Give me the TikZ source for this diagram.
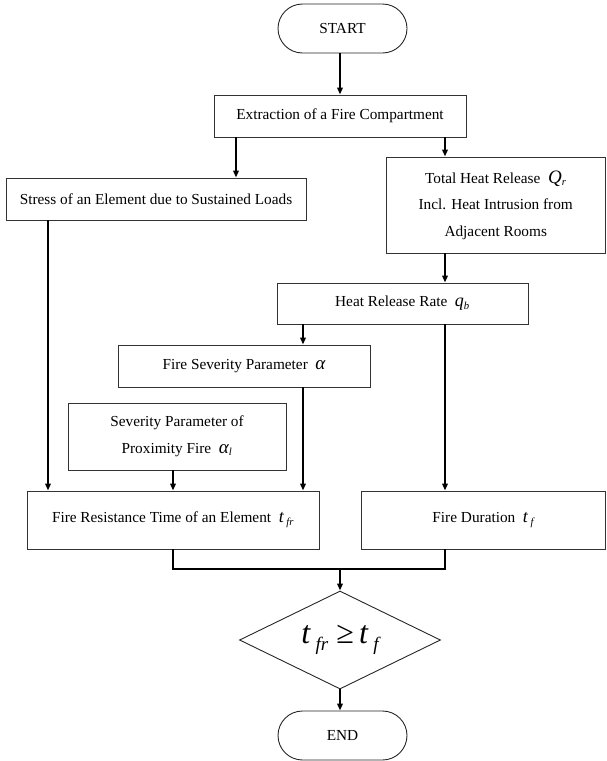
\documentclass[tikz,border=0pt]{standalone}
\usepackage{fontspec}
\setmainfont{Liberation Serif}
\usetikzlibrary{shapes.geometric,shapes.misc,arrows.meta}
\newcommand{\mvar}[2]{{\fontsize{#2}{#2}\selectfont\itshape #1}}
\newcommand{\msub}[1]{\textsubscript{\itshape #1}}
\begin{document}
\begin{tikzpicture}[x=1pt,y=-1pt,
  every node/.style={font=\fontsize{15.3}{26.5}\selectfont},
  box/.style={draw=black!80,line width=0.9pt,rectangle,inner sep=0pt,align=center},
  term/.style={draw=black!85,line width=0.9pt,rounded rectangle,inner sep=0pt},
  decis/.style={draw=black!85,line width=0.9pt,diamond,inner sep=0pt},
  arr/.style={line width=2.4pt,-{Triangle[length=7pt,width=5.5pt]},shorten >=0pt},
  thick line/.style={line width=2.6pt}]
\useasboundingbox (0,0) rectangle (606,761);
\node[term,minimum width=129pt,minimum height=49pt] (start) at (342.5,28.5) {START};
\node[box,minimum width=252pt,minimum height=42pt] (ext) at (340,116) {Extraction of a Fire Compartment};
\node[box,minimum width=300pt,minimum height=42pt] (stress) at (156,199) {Stress of an Element due to Sustained Loads};
\node[box,minimum width=219.5pt,minimum height=96pt] (total) at (495.75,205) {Total Heat Release\ \ \mvar{Q}{19}\msub{r}\\Incl. Heat Intrusion from\\Adjacent Rooms};
\node[box,minimum width=251pt,minimum height=41pt] (hrr) at (402.5,303.5) {Heat Release Rate\ \ \mvar{q}{18}\msub{b}};
\node[box,minimum width=252pt,minimum height=42pt] (fsp) at (244,366) {Fire Severity Parameter\ \ \mvar{α}{19}};
\node[box,minimum width=218pt,minimum height=67pt] (prox) at (177,436.5) {Severity Parameter of\\Proximity Fire\ \ \mvar{α}{19}\msub{l}};
\node[box,minimum width=292pt,minimum height=58pt] (fre) at (173,520) {Fire Resistance Time of an Element\ \ \mvar{t}{18}\,\msub{fr}};
\node[box,minimum width=244.5pt,minimum height=58pt] (fdur) at (483.25,520) {Fire Duration\ \ \mvar{t}{18}\,\msub{f}};
\node[decis,minimum width=201pt,minimum height=98pt,aspect=2.05] (dec) at (340,640)
  {\fontsize{32}{32}\selectfont\itshape t\,{\fontsize{19}{19}\selectfont\raisebox{-7pt}{fr}}\ {\upshape ≥}\,t\,{\fontsize{19}{19}\selectfont\raisebox{-7pt}{f}}};
\node[term,minimum width=129pt,minimum height=49pt] (end) at (342.5,735.5) {END};
% x positions of connectors
\coordinate (xc) at (340,0);
\coordinate (xa) at (236,0);
\coordinate (xb) at (445,0);
\coordinate (xl) at (48,0);
\coordinate (xs) at (303,0);
\coordinate (xp) at (173,0);
\coordinate (ym) at (0,569);
\draw[arr] (start.south -| xc) -- (ext.north -| xc);
\draw[arr] (ext.south -| xa) -- (stress.north -| xa);
\draw[arr] (ext.south -| xb) -- (total.north -| xb);
\draw[arr] (stress.south -| xl) -- (fre.north -| xl);
\draw[arr] (total.south -| xb) -- (hrr.north -| xb);
\draw[arr] (hrr.south -| xs) -- (fsp.north -| xs);
\draw[arr] (hrr.south -| xb) -- (fdur.north -| xb);
\draw[arr] (fsp.south -| xs) -- (fre.north -| xs);
\draw[arr] (prox.south -| xp) -- (fre.north -| xp);
\coordinate (m1) at (xp |- ym);
\coordinate (m2) at (xb |- ym);
\coordinate (mc) at (xc |- ym);
\draw[thick line,line join=miter] (fre.south -| xp) -- (m1) -- (m2) -- (fdur.south -| xb);
\draw[arr] (mc) -- (dec.north);
\draw[arr] (dec.south) -- (end.north -| xc);
\end{tikzpicture}
\end{document}
